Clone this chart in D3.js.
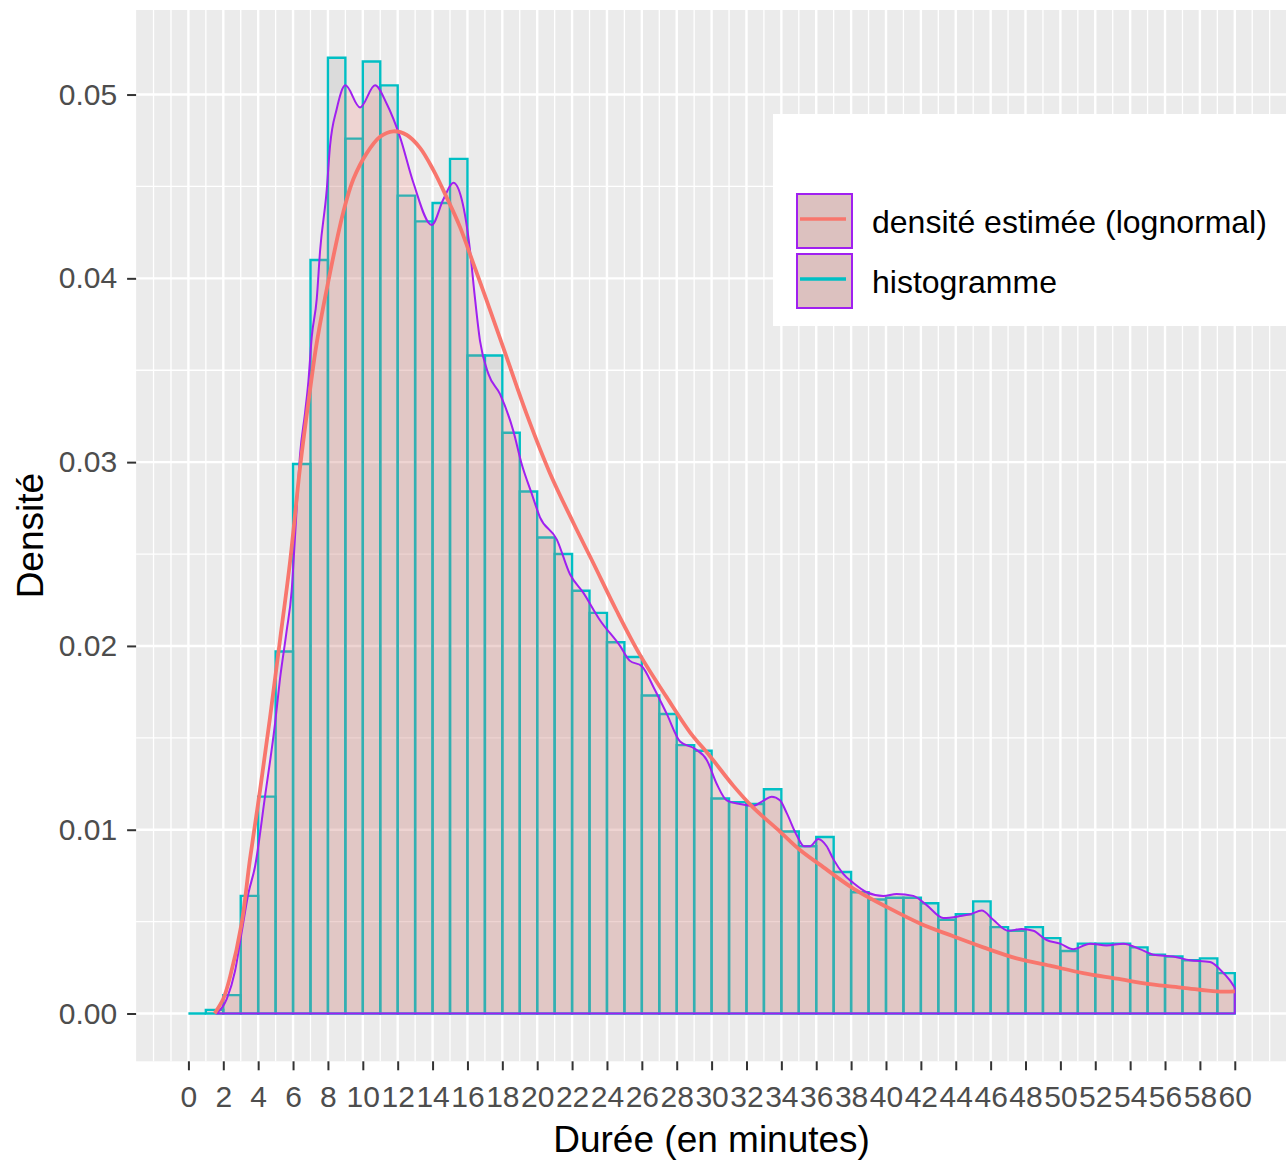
<!DOCTYPE html>
<html>
<head>
<meta charset="utf-8">
<script src="https://cdn.jsdelivr.net/npm/d3@7/dist/d3.min.js"></script>
<style>
  body { margin: 0; background: #ffffff; }
</style>
</head>
<body>
<div class="drawBoard"></div>
<script>
// histogram, one bin per minute: bin i covers [i, i+1]
const binStart = [0,1,2,3,4,5,6,7,8,9,10,11,12,13,14,15,16,17,18,19,
                  20,21,22,23,24,25,26,27,28,29,30,31,32,33,34,35,36,37,38,39,
                  40,41,42,43,44,45,46,47,48,49,50,51,52,53,54,55,56,57,58,59];
const binDensity = [0.0000,0.0002,0.0010,0.0064,0.0118,0.0197,0.0299,0.0410,0.0520,0.0476,
                    0.0518,0.0505,0.0445,0.0431,0.0441,0.0465,0.0358,0.0358,0.0316,0.0284,
                    0.0259,0.0250,0.0230,0.0218,0.0202,0.0194,0.0173,0.0163,0.0146,0.0143,
                    0.0117,0.0115,0.0114,0.0122,0.0099,0.0091,0.0096,0.0077,0.0066,0.0062,
                    0.0063,0.0063,0.0060,0.0051,0.0054,0.0061,0.0047,0.0045,0.0047,0.0041,
                    0.0034,0.0038,0.0038,0.0038,0.0036,0.0032,0.0031,0.0029,0.0030,0.0022];

// kernel density (purple)
const kdeX = [1.6,2.2,2.67,3.05,3.43,3.82,4.39,4.97,5.25,5.63,5.92,6.11,6.4,6.69,6.88,7.07,7.36,7.55,7.93,8.12,
              8.5,9.0,9.84,10.7,11.37,12.13,12.9,13.95,14.62,15.19,15.67,16.15,16.4,16.72,17.2,17.87,18.63,19.11,19.68,20.16,
              21.12,21.88,22.64,23.6,24.75,25.3,26.0,26.7,27.43,28.19,29.05,29.72,30.29,30.87,31.63,32.39,33.0,33.45,33.92,34.31,
              34.88,35.3,35.64,36.12,36.6,36.98,37.55,38.13,38.89,39.85,40.61,41.57,42.33,43.29,44.24,44.82,45.49,46.15,47.01,47.78,
              48.45,49.21,49.98,50.74,51.7,52.65,53.61,54.56,55.33,56.47,57.43,58.58,59.15,59.72,60];
const kdeY = [0,0.0008,0.0023,0.0044,0.0065,0.0080,0.0118,0.0158,0.0182,0.0208,0.0230,0.0259,0.0304,0.0327,0.0344,0.0368,0.0389,0.0415,0.0448,0.0472,
              0.0492,0.0505,0.0493,0.0505,0.0495,0.0477,0.0452,0.0429,0.0443,0.0452,0.0443,0.0415,0.0392,0.0366,0.0348,0.0337,0.0317,0.0299,0.0283,0.0270,
              0.0258,0.0239,0.0229,0.0214,0.0200,0.0192,0.0189,0.0177,0.0163,0.0148,0.0144,0.0138,0.0125,0.0116,0.0114,0.0113,0.0116,0.0118,0.0116,0.0109,
              0.0097,0.0091,0.0091,0.0095,0.0091,0.0084,0.0076,0.0071,0.0066,0.0064,0.0065,0.0064,0.0059,0.0052,0.0053,0.0054,0.0056,0.0051,0.0045,0.0046,
              0.0045,0.0040,0.0038,0.0035,0.0038,0.0037,0.0038,0.0035,0.0032,0.0031,0.0029,0.0028,0.0024,0.0018,0.0014];

// fitted lognormal density (red)
const lnX = [1.5,2.0,2.39,3.05,3.53,4.1,4.68,5.25,5.83,6.4,6.97,7.36,8.12,8.88,9.46,10.22,10.99,11.75,12.52,13.28,
             14.04,14.81,15.57,16.34,17.1,18.25,19.4,20.73,22.07,23.22,24.56,25.9,27.43,28.76,29.91,31.24,32.39,33.92,35.07,36.21,
             38.13,40.04,41.95,43.86,45.58,47.49,49.4,51.31,53.23,55.14,57.05,58.96,60];
const lnY = [0,0.0008,0.0020,0.0049,0.0084,0.0121,0.0161,0.0203,0.0246,0.0297,0.0339,0.0365,0.0403,0.0436,0.0454,0.0468,0.0477,0.0480,0.0478,0.0471,
             0.0459,0.0444,0.0428,0.0408,0.0388,0.0357,0.0326,0.0294,0.0267,0.0245,0.0219,0.0195,0.0172,0.0153,0.0140,0.0124,0.0112,0.0099,0.0089,0.0081,
             0.0068,0.0058,0.0049,0.0042,0.0036,0.0030,0.0026,0.0022,0.0019,0.0016,0.0014,0.0012,0.0012];

const xTicks = [0,2,4,6,8,10,12,14,16,18,20,22,24,26,28,30,32,34,36,38,40,42,44,46,48,50,52,54,56,58,60];
const yTicks = [0,0.01,0.02,0.03,0.04,0.05];
const yTickLabels = ['0.00','0.01','0.02','0.03','0.04','0.05'];

const legendLabels = ['densité estimée (lognormal)', 'histogramme'];
const legendColors = ['#F8766D', '#00BFC4'];

const FONT = 'Liberation Sans, Arial, sans-serif';

const svg = d3.select('.drawBoard').append('svg')
    .attr('width', 1286)
    .attr('height', 1161)
    .style('display', 'block')
    .style('background', '#ffffff');

const x = d3.scaleLinear().domain([-3, 63]).range([136.1, 1287.1]);
const y = d3.scaleLinear().domain([-0.0026, 0.0546]).range([1061.3, 10]);

// panel
svg.append('rect')
    .attr('x', x(-3))
    .attr('y', y(0.0546))
    .attr('width', x(63) - x(-3))
    .attr('height', y(-0.0026) - y(0.0546))
    .attr('fill', '#EBEBEB');

// minor grid
const xMinor = d3.range(-2, 63, 1).filter(d => d % 2 !== 0 || d < 0 || d > 60);
const yMinor = [0.005, 0.015, 0.025, 0.035, 0.045];

svg.append('g').selectAll('line').data(xMinor).join('line')
    .attr('x1', d => x(d)).attr('x2', d => x(d))
    .attr('y1', y(0.0546)).attr('y2', y(-0.0026))
    .attr('stroke', '#ffffff').attr('stroke-width', 1.3);

svg.append('g').selectAll('line').data(yMinor).join('line')
    .attr('x1', x(-3)).attr('x2', x(63))
    .attr('y1', d => y(d)).attr('y2', d => y(d))
    .attr('stroke', '#ffffff').attr('stroke-width', 1.3);

// major grid
svg.append('g').selectAll('line').data(xTicks).join('line')
    .attr('x1', d => x(d)).attr('x2', d => x(d))
    .attr('y1', y(0.0546)).attr('y2', y(-0.0026))
    .attr('stroke', '#ffffff').attr('stroke-width', 2.4);

svg.append('g').selectAll('line').data(yTicks).join('line')
    .attr('x1', x(-3)).attr('x2', x(63))
    .attr('y1', d => y(d)).attr('y2', d => y(d))
    .attr('stroke', '#ffffff').attr('stroke-width', 2.4);

// histogram bars (paths so that empty bins still show their outline)
const bins = binStart.map((d, i) => ({ x0: d, x1: d + 1, v: binDensity[i] }));

svg.append('g').selectAll('path').data(bins).join('path')
    .attr('d', d => 'M' + x(d.x0) + ',' + y(0) + 'V' + y(d.v) + 'H' + x(d.x1) + 'V' + y(0) + 'Z')
    .attr('fill', '#999999')
    .attr('fill-opacity', 0.2)
    .attr('stroke', '#00BFC4')
    .attr('stroke-width', 2.4);

// kernel density area
const kde = kdeX.map((d, i) => [d, kdeY[i]]);
const area = d3.area()
    .x(d => x(d[0]))
    .y0(y(0))
    .y1(d => y(d[1]))
    .curve(d3.curveMonotoneX);

svg.append('path')
    .datum(kde)
    .attr('d', area)
    .attr('fill', '#F8766D')
    .attr('fill-opacity', 0.2)
    .attr('stroke', '#A020F0')
    .attr('stroke-width', 2)
    .attr('stroke-linejoin', 'round');

// lognormal curve
const ln = lnX.map((d, i) => [d, lnY[i]]);
svg.append('path')
    .datum(ln)
    .attr('d', d3.line().x(d => x(d[0])).y(d => y(d[1])).curve(d3.curveCatmullRom.alpha(0.5)))
    .attr('fill', 'none')
    .attr('stroke', '#F8766D')
    .attr('stroke-width', 3.8);

// axes
const xAxis = svg.append('g')
    .attr('transform', 'translate(0,' + y(-0.0026) + ')')
    .call(d3.axisBottom(x).tickValues(xTicks).tickSize(9).tickPadding(15));

const yAxis = svg.append('g')
    .attr('transform', 'translate(' + x(-3) + ',0)')
    .call(d3.axisLeft(y).tickValues(yTicks).tickSize(9).tickPadding(10)
        .tickFormat((d, i) => yTickLabels[i]));

[xAxis, yAxis].forEach(a => {
    a.select('.domain').remove();
    a.selectAll('.tick line').attr('stroke', '#333333').attr('stroke-width', 2);
    a.selectAll('.tick text')
        .attr('fill', '#4D4D4D')
        .style('font-family', FONT)
        .style('font-size', '30px');
});

// axis titles
svg.append('text')
    .text('Durée (en minutes)')
    .attr('x', (x(-3) + x(63)) / 2)
    .attr('y', 1152)
    .attr('text-anchor', 'middle')
    .attr('fill', '#000000')
    .style('font-family', FONT)
    .style('font-size', '37px');

svg.append('text')
    .text('Densité')
    .attr('transform', 'translate(43,' + (y(0.0546) + y(-0.0026)) / 2 + ') rotate(-90)')
    .attr('text-anchor', 'middle')
    .attr('fill', '#000000')
    .style('font-family', FONT)
    .style('font-size', '37px');

// legend
const legend = svg.append('g');
legend.append('rect')
    .attr('x', 773)
    .attr('y', 114)
    .attr('width', 540)
    .attr('height', 212)
    .attr('fill', '#ffffff');

const keys = legend.selectAll('g.key').data(legendLabels).join('g')
    .attr('class', 'key')
    .attr('transform', (d, i) => 'translate(797,' + (194 + i * 60) + ')');

keys.append('rect')
    .attr('x', 0).attr('y', 0)
    .attr('width', 55).attr('height', 54)
    .attr('fill', '#DCC1BF')
    .attr('stroke', '#A020F0')
    .attr('stroke-width', 2);

keys.append('line')
    .attr('x1', 3).attr('x2', 49)
    .attr('y1', 25).attr('y2', 25)
    .attr('stroke', (d, i) => legendColors[i])
    .attr('stroke-width', 3.6);

keys.append('text')
    .text(d => d)
    .attr('x', 75)
    .attr('y', 39)
    .attr('fill', '#000000')
    .style('font-family', FONT)
    .style('font-size', '32px');
</script>
</body>
</html>
